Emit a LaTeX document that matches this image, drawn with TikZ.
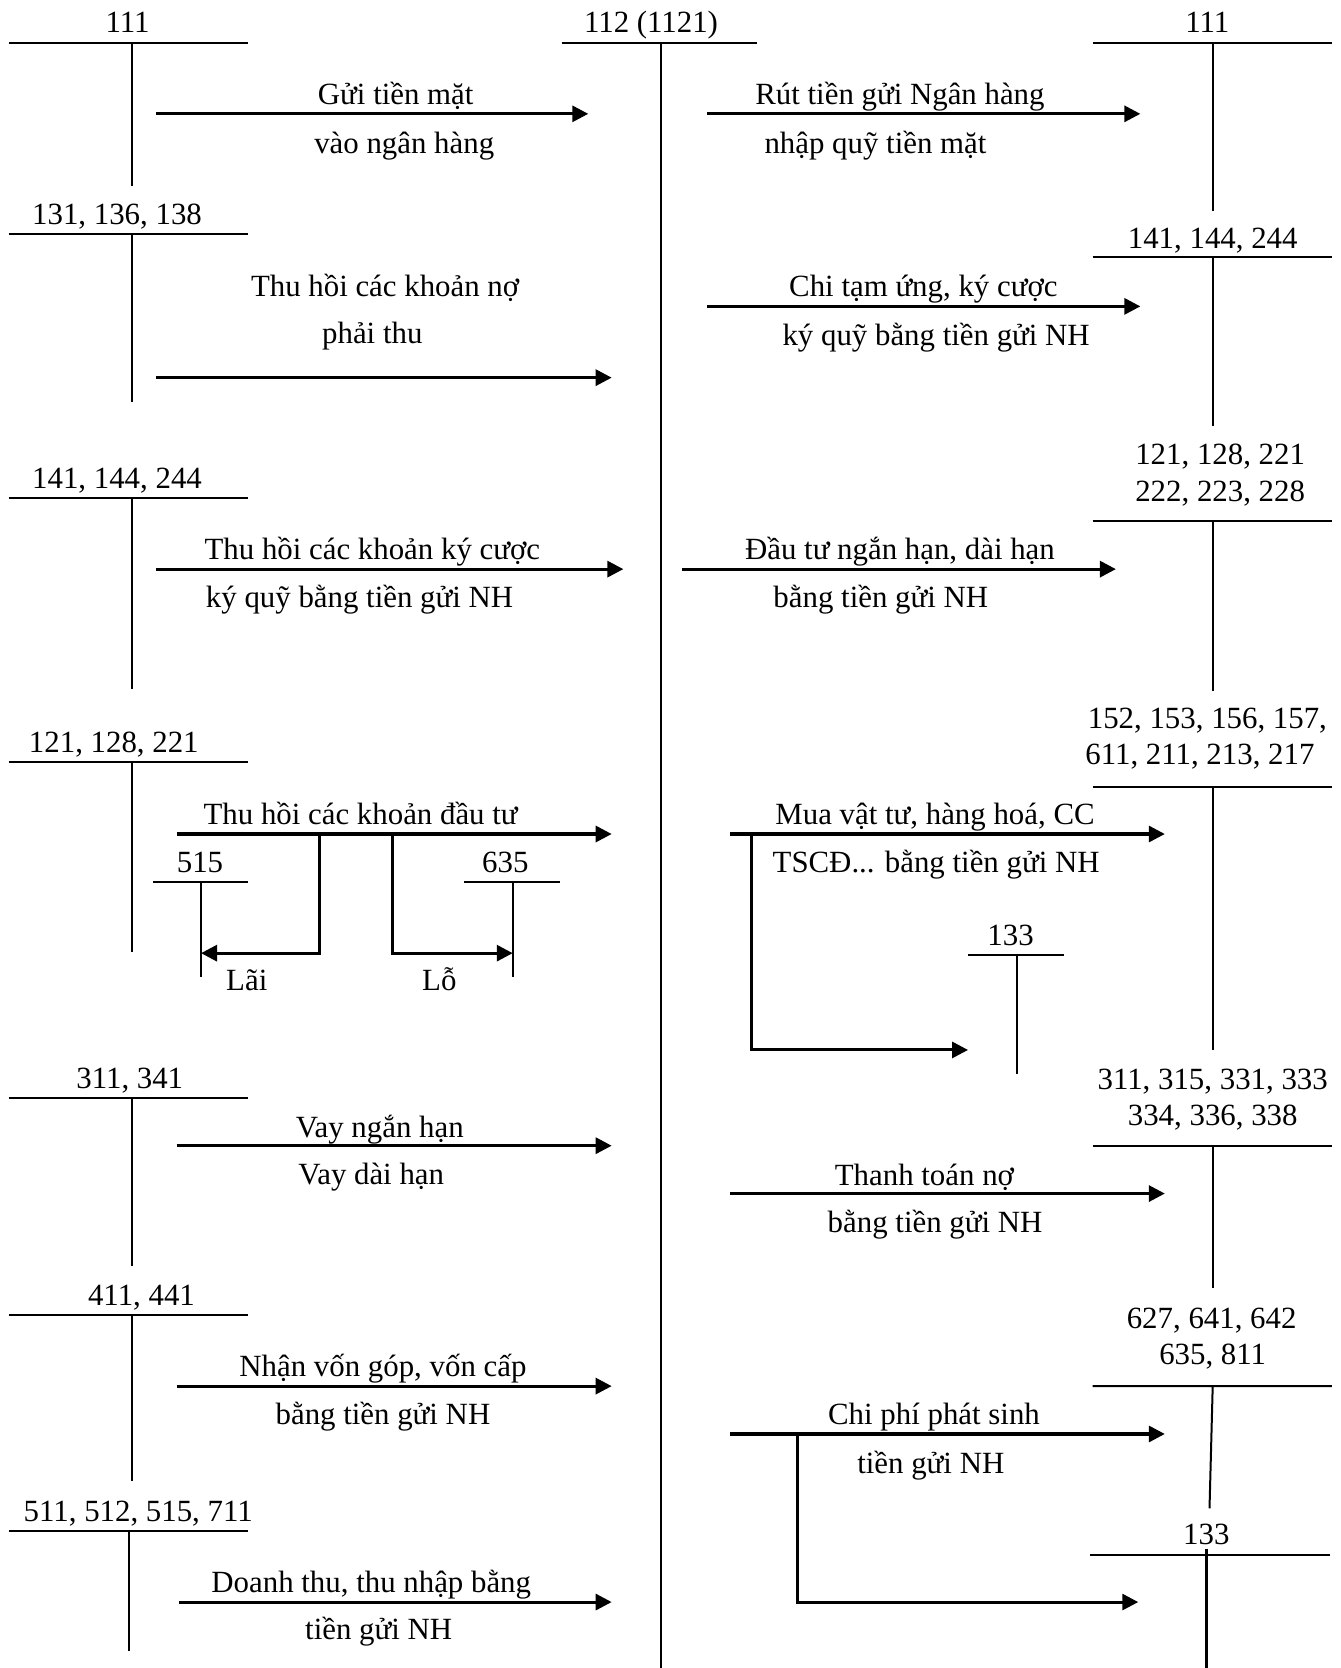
\documentclass[tikz,border=0pt]{standalone}
\usepackage{fontspec}
\setmainfont{Liberation Serif}
\usetikzlibrary{arrows.meta}

\begin{document}
\begin{tikzpicture}[x=0.4pt, y=-0.4pt,
  every node/.style={font=\fontsize{11.6}{14}\selectfont, inner sep=0pt, anchor=base},
  tline/.style={line width=0.75pt},
  flow/.style={line width=1.15pt, -{Triangle[length=6pt,width=6pt]}}]
  \useasboundingbox (0,0) rectangle (1260,1568);
  % central account
  \node (tk112) at (612,31) {112 (1121)};
  \draw[tline] (528,40) -- (712,40) (621,40) -- (621,1568);
  % left accounts
  \node (l111) at (120,31) {111};
  \draw[tline] (8,40) -- (233,40) (124,40) -- (124,175);
  \node (l131) at (110,211) {131, 136, 138};
  \draw[tline] (8,220) -- (233,220) (124,220) -- (124,378);
  \node (l141) at (110,459) {141, 144, 244};
  \draw[tline] (8,468) -- (233,468) (124,468) -- (124,648);
  \node (l121) at (107,707) {121, 128, 221};
  \draw[tline] (8,716) -- (233,716) (124,716) -- (124,895);
  \node (l515) at (188,820) {515};
  \draw[tline] (144,829) -- (233,829) (189,829) -- (189,918);
  \node (l635) at (475,820) {635};
  \draw[tline] (436,829) -- (526,829) (482,829) -- (482,918);
  \node (l311) at (122,1023) {311, 341};
  \draw[tline] (8,1032) -- (233,1032) (124,1032) -- (124,1190);
  \node (l411) at (133,1227) {411, 441};
  \draw[tline] (8,1236) -- (233,1236) (124,1236) -- (124,1392);
  \node (l511) at (130,1430) {511, 512, 515, 711};
  \draw[tline] (8,1439) -- (233,1439) (121,1439) -- (121,1552);
  % right accounts
  \node (r111) at (1135,31) {111};
  \draw[tline] (1027,40) -- (1252,40) (1140,40) -- (1140,198);
  \node (r141) at (1140,234) {141, 144, 244};
  \draw[tline] (1027,242) -- (1252,242) (1140,242) -- (1140,400);
  \node (r121a) at (1147,437) {121, 128, 221};
  \node (r121b) at (1147,471) {222, 223, 228};
  \draw[tline] (1027,490) -- (1252,490) (1140,490) -- (1140,650);
  \node (r152a) at (1135,685) {152, 153, 156, 157,};
  \node (r152b) at (1128,719) {611, 211, 213, 217};
  \draw[tline] (1027,740) -- (1252,740) (1140,740) -- (1140,987);
  \node (m133) at (950,889) {133};
  \draw[tline] (910,898) -- (1000,898) (956,898) -- (956,1010);
  \node (r311a) at (1140,1024) {311, 315, 331, 333};
  \node (r311b) at (1140,1058) {334, 336, 338};
  \draw[tline] (1027,1077) -- (1252,1077) (1140,1077) -- (1140,1211);
  \node (r627a) at (1139,1249) {627, 641, 642};
  \node (r627b) at (1140,1283) {635, 811};
  \draw[tline] (1027,1303) -- (1252,1303) (1140,1303) -- (1137,1418);
  \node (r133) at (1134,1452) {133};
  \draw[tline] (1025,1462) -- (1250,1462);
  \draw[line width=1.2pt] (1134,1456) -- (1134,1568);
  % arrows into 112
  \coordinate (a1) at (147,107); \coordinate (a2) at (553,107);
  \draw[flow] (a1) -- (a2);
  \node (ta1) at (372,98) {Gửi tiền mặt};
  \node (ta2) at (380,144) {vào ngân hàng};
  \coordinate (b1) at (147,355); \coordinate (b2) at (575,355);
  \draw[flow] (b1) -- (b2);
  \node (tb1) at (362,279) {Thu hồi các khoản nợ};
  \node (tb2) at (350,323) {phải thu};
  \coordinate (c1) at (147,535); \coordinate (c2) at (586,535);
  \draw[flow] (c1) -- (c2);
  \node (tc1) at (350,526) {Thu hồi các khoản ký cược};
  \node (tc2) at (338,571) {ký quỹ bằng tiền gửi NH};
  \coordinate (d1) at (166,784); \coordinate (d2) at (575,784);
  \draw[flow] (d1) -- (d2);
  \node (td1) at (339,775) {Thu hồi các khoản đầu tư};
  \coordinate (d3) at (300,784); \coordinate (d4) at (189,896);
  \draw[flow] (d3) |- (d4);
  \coordinate (d5) at (369,784); \coordinate (d6) at (482,896);
  \draw[flow] (d5) |- (d6);
  \node (lai) at (232,931) {Lãi};
  \node (lo) at (413,931) {Lỗ};
  \coordinate (e1) at (166,1077); \coordinate (e2) at (575,1077);
  \draw[flow] (e1) -- (e2);
  \node (te1) at (357,1069) {Vay ngắn hạn};
  \node (te2) at (349,1113) {Vay dài hạn};
  \coordinate (f1) at (166,1303); \coordinate (f2) at (575,1303);
  \draw[flow] (f1) -- (f2);
  \node (tf1) at (360,1294) {Nhận vốn góp, vốn cấp};
  \node (tf2) at (360,1339) {bằng tiền gửi NH};
  \coordinate (g1) at (168,1506); \coordinate (g2) at (575,1506);
  \draw[flow] (g1) -- (g2);
  \node (tg1) at (349,1497) {Doanh thu, thu nhập bằng};
  \node (tg2) at (356,1541) {tiền gửi NH};
  % arrows out of 112
  \coordinate (h1) at (665,107); \coordinate (h2) at (1072,107);
  \draw[flow] (h1) -- (h2);
  \node (th1) at (846,98) {Rút tiền gửi Ngân hàng};
  \node (th2) at (823,144) {nhập quỹ tiền mặt};
  \coordinate (i1) at (665,288); \coordinate (i2) at (1072,288);
  \draw[flow] (i1) -- (i2);
  \node (ti1) at (868,279) {Chi tạm ứng, ký cược};
  \node (ti2) at (880,325) {ký quỹ bằng tiền gửi NH};
  \coordinate (j1) at (641,535); \coordinate (j2) at (1049,535);
  \draw[flow] (j1) -- (j2);
  \node (tj1) at (846,526) {Đầu tư ngắn hạn, dài hạn};
  \node (tj2) at (828,571) {bằng tiền gửi NH};
  \coordinate (k1) at (686,784); \coordinate (k2) at (1095,784);
  \draw[flow] (k1) -- (k2);
  \node (tk1) at (879,775) {Mua vật tư, hàng hoá, CC};
  \node (tk2) at (880,820) {TSCĐ... bằng tiền gửi NH};
  \coordinate (k3) at (706,784); \coordinate (k4) at (910,987);
  \draw[flow] (k3) |- (k4);
  \coordinate (l1) at (686,1122); \coordinate (l2) at (1095,1122);
  \draw[flow] (l1) -- (l2);
  \node (tl1) at (869,1114) {Thanh toán nợ};
  \node (tl2) at (879,1159) {bằng tiền gửi NH};
  \coordinate (m1) at (686,1348); \coordinate (m2) at (1095,1348);
  \draw[flow] (m1) -- (m2);
  \node (tm1) at (878,1339) {Chi phí phát sinh};
  \node (tm2) at (875,1385) {tiền gửi NH};
  \coordinate (m3) at (750,1348); \coordinate (m4) at (1070,1506);
  \draw[flow] (m3) |- (m4);
\end{tikzpicture}
\end{document}
